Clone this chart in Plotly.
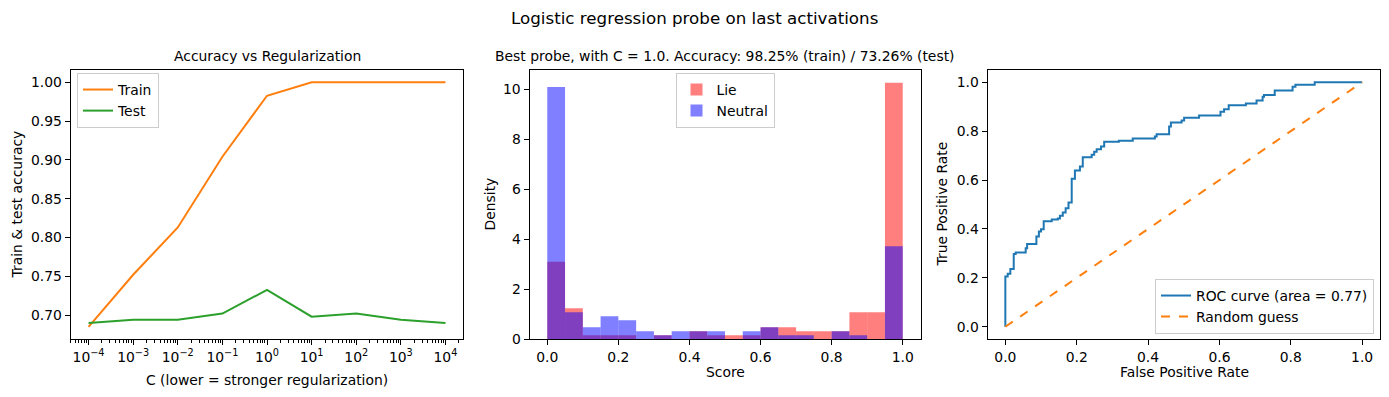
import plotly.graph_objects as go

# ---------------- data ----------------
C_values = [1e-4, 1e-3, 1e-2, 1e-1, 1e0, 1e1, 1e2, 1e3, 1e4]
train_acc = [0.685, 0.752, 0.813, 0.904, 0.9825, 1.0, 1.0, 1.0, 1.0]
test_acc = [0.690, 0.694, 0.694, 0.702, 0.7326, 0.698, 0.702, 0.694, 0.690]

bin_centers = [0.025 + 0.05 * i for i in range(20)]
lie_density = [3.10, 1.23, 0.147, 0.147, 0.147, 0.0, 0.147, 0.0, 0.31, 0.147,
               0.147, 0.147, 0.47, 0.47, 0.31, 0.31, 0.31, 1.07, 1.07, 10.27]
neutral_density = [10.10, 1.07, 0.47, 0.91, 0.75, 0.31, 0.147, 0.31, 0.31, 0.31,
                   0.0, 0.31, 0.47, 0.147, 0.147, 0.0, 0.31, 0.147, 0.0, 3.72]

fpr = [0.0, 0.0, 0.0066, 0.014, 0.0235, 0.029, 0.057, 0.061, 0.087, 0.094,
       0.100, 0.1075, 0.130, 0.147, 0.153, 0.161, 0.169, 0.177, 0.186, 0.195,
       0.209, 0.217, 0.242, 0.249, 0.256, 0.268, 0.277, 0.318, 0.357, 0.419,
       0.424, 0.459, 0.464, 0.494, 0.501, 0.543, 0.603, 0.613, 0.626, 0.674,
       0.704, 0.721, 0.725, 0.755, 0.805, 0.813, 0.867, 1.0]
tpr = [0.0, 0.206, 0.217, 0.236, 0.298, 0.304, 0.321, 0.338, 0.369, 0.390,
       0.399, 0.432, 0.439, 0.443, 0.454, 0.467, 0.485, 0.508, 0.605, 0.639,
       0.655, 0.693, 0.703, 0.716, 0.726, 0.737, 0.757, 0.761, 0.770, 0.778,
       0.787, 0.819, 0.835, 0.843, 0.855, 0.864, 0.879, 0.890, 0.906, 0.913,
       0.925, 0.941, 0.948, 0.966, 0.981, 0.990, 1.0, 1.0]
roc_auc = 0.77

c_tick_vals = [1e-4, 1e-3, 1e-2, 1e-1, 1e0, 1e1, 1e2, 1e3, 1e4]
c_tick_text = ["10<sup>\u22124</sup>", "10<sup>\u22123</sup>", "10<sup>\u22122</sup>",
               "10<sup>\u22121</sup>", "10<sup>0</sup>", "10<sup>1</sup>",
               "10<sup>2</sup>", "10<sup>3</sup>", "10<sup>4</sup>"]
acc_ticks = [0.70, 0.75, 0.80, 0.85, 0.90, 0.95, 1.00]
density_ticks = [0, 2, 4, 6, 8, 10]
unit_ticks = [0.0, 0.2, 0.4, 0.6, 0.8, 1.0]

# ---------------- figure ----------------
OFF = 8  # default page body margin
W, H = 1389 - 2 * OFF, 397 - 2 * OFF
FONT = "DejaVu Sans"
FS = 13.9

fig = go.Figure()

fig.add_trace(go.Scatter(x=C_values, y=train_acc, mode="lines", name="Train",
                         line=dict(color="#ff7f0e", width=2), xaxis="x", yaxis="y",
                         legend="legend"))
fig.add_trace(go.Scatter(x=C_values, y=test_acc, mode="lines", name="Test",
                         line=dict(color="#2ca02c", width=2), xaxis="x", yaxis="y",
                         legend="legend"))

fig.add_trace(go.Bar(x=bin_centers, y=lie_density, width=0.05, name="Lie",
                     marker=dict(color="rgba(255,0,0,0.5)", line=dict(width=0)),
                     xaxis="x2", yaxis="y2", legend="legend2"))
fig.add_trace(go.Bar(x=bin_centers, y=neutral_density, width=0.05, name="Neutral",
                     marker=dict(color="rgba(0,0,255,0.5)", line=dict(width=0)),
                     xaxis="x2", yaxis="y2", legend="legend2"))

fig.add_trace(go.Scatter(x=fpr, y=tpr, mode="lines", line_shape="hv",
                         name=f"ROC curve (area = {roc_auc:.2f})",
                         line=dict(color="#1f77b4", width=2), xaxis="x3", yaxis="y3",
                         legend="legend3"))
fig.add_trace(go.Scatter(x=[0, 1], y=[0, 1], mode="lines", name="Random guess",
                         line=dict(color="#ff7f0e", width=2, dash="dash"),
                         xaxis="x3", yaxis="y3", legend="legend3"))

def px_x(v):
    return (v - OFF) / W

def px_y(v):
    return 1 - (v - OFF) / H

ydom = [px_y(339), px_y(70)]
axis_common = dict(showline=True, linecolor="black", linewidth=1, mirror=True,
                   ticks="outside", ticklen=5, tickwidth=1, tickcolor="black",
                   showgrid=False, zeroline=False, automargin=False,
                   tickfont=dict(family=FONT, size=FS, color="black"))

minor_vals = [m * 10 ** k for k in range(-5, 5) for m in range(2, 10)]

fig.update_layout(
    width=W, height=H,
    margin=dict(l=0, r=0, t=0, b=0),
    paper_bgcolor="white", plot_bgcolor="white",
    font=dict(family=FONT, size=FS, color="black"),
    barmode="overlay",
    xaxis=dict(domain=[px_x(70.7), px_x(463.3)], type="log", range=[-4.4, 4.4],
               tickmode="array", tickvals=c_tick_vals, ticktext=c_tick_text,
               minor=dict(tickmode="array", tickvals=minor_vals, ticks="outside",
                          ticklen=3, tickwidth=0.8, tickcolor="black"),
               anchor="y", **axis_common),
    yaxis=dict(domain=ydom, range=[0.6693, 1.0157], tickmode="array",
               tickvals=acc_ticks, tickformat=".2f", anchor="x", **axis_common),
    xaxis2=dict(domain=[px_x(529.5), px_x(920.5)], range=[-0.05, 1.05],
                tickmode="array", tickvals=unit_ticks, tickformat=".1f",
                anchor="y2", **axis_common),
    yaxis2=dict(domain=ydom, range=[0, 10.78], tickmode="array",
                tickvals=density_ticks, anchor="x2", **axis_common),
    xaxis3=dict(domain=[px_x(987.5), px_x(1380)], range=[-0.05, 1.05],
                tickmode="array", tickvals=unit_ticks, tickformat=".1f",
                anchor="y3", **axis_common),
    yaxis3=dict(domain=ydom, range=[-0.05, 1.05], tickmode="array",
                tickvals=unit_ticks, tickformat=".1f", anchor="x3", **axis_common),
    legend=dict(x=px_x(77), y=px_y(73), xanchor="left", yanchor="top",
                bgcolor="rgba(255,255,255,0.8)", bordercolor="#cccccc", borderwidth=1,
                font=dict(family=FONT, size=FS), itemwidth=30, tracegroupgap=0),
    legend2=dict(x=px_x(725), y=px_y(73), xanchor="center", yanchor="top",
                 bgcolor="rgba(255,255,255,0.8)", bordercolor="#cccccc", borderwidth=1,
                 font=dict(family=FONT, size=FS), itemwidth=30),
    legend3=dict(x=px_x(1374), y=px_y(334), xanchor="right", yanchor="bottom",
                 bgcolor="rgba(255,255,255,0.8)", bordercolor="#cccccc", borderwidth=1,
                 font=dict(family=FONT, size=FS), itemwidth=30),
)

def note(text, x, y, size=FS, angle=0):
    fig.add_annotation(text=text, x=px_x(x), y=px_y(y), xref="paper", yref="paper",
                       showarrow=False, xanchor="center", yanchor="middle",
                       textangle=angle, font=dict(family=FONT, size=size, color="black"))

note("Logistic regression probe on last activations", 694.5, 18, size=16.7)
note("Accuracy vs Regularization", 267, 56)
note("Best probe, with C = 1.0. Accuracy: 98.25% (train) / 73.26% (test)", 725, 56)
note("C (lower = stronger regularization)", 267, 380)
note("Train & test accuracy", 16, 204.5, angle=-90)
note("Score", 725, 372)
note("Density", 489, 204.5, angle=-90)
note("False Positive Rate", 1184, 372)
note("True Positive Rate", 941, 204.5, angle=-90)

fig.write_html("out.html")
